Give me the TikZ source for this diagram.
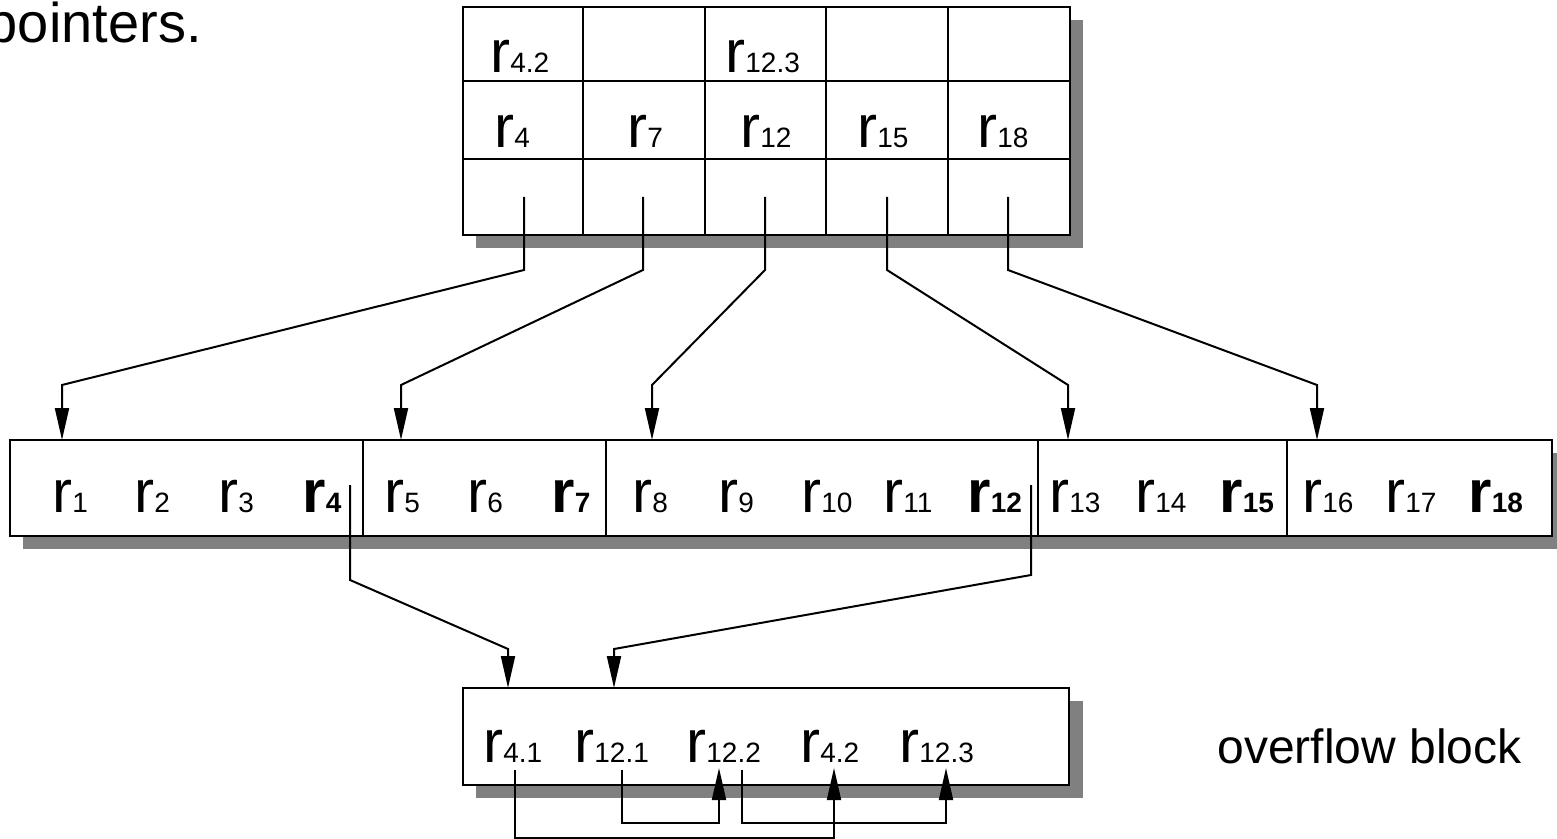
\documentclass[tikz,border=0pt]{standalone}
\usepackage{fontspec}
\setmainfont{Liberation Sans}
\usetikzlibrary{arrows.meta}

\definecolor{shadowgray}{gray}{0.5}
\newcommand{\rec}[1]{{\fontsize{30}{30}\selectfont r}{\fontsize{14}{14}\selectfont #1}}
\newcommand{\recb}[1]{{\bfseries\rec{#1}}}

\begin{document}
\begin{tikzpicture}[x=0.5pt,y=-0.5pt,
    box/.style={draw, line width=1.3pt, fill=white},
    rule/.style={line width=1.3pt},
    ptr/.style={line width=1pt, -{Triangle[length=16pt,width=7pt]}},
    rec/.style={anchor=base west, inner sep=0pt},
    label/.style={inner sep=0pt, font=\fontsize{24}{24}\selectfont}]
  \useasboundingbox (0,0) rectangle (1557,839);

  % Caption text
  \node[label, anchor=base east, font=\fontsize{28}{28}\selectfont] (caption) at (202,43) {pointers.};
  \node[label, anchor=base west] (ovlabel) at (1217,763) {overflow block};

  % Draw the index block
  \fill[shadowgray] (476,20) rectangle (1083,248);
  \draw[box] (463,7) rectangle (1070,235);
  \foreach \x in {583,705,826,948} \draw[rule] (\x,7) -- (\x,235);
  \foreach \y in {81,159} \draw[rule] (463,\y) -- (1070,\y);
  \node[rec] (i42) at (490,73) {\rec{4.2}};
  \node[rec] (i123) at (725,73) {\rec{12.3}};
  \foreach \x/\n in {494/4,627/7,740/12,857/15,977/18}
    \node[rec] (i\n) at (\x,148) {\rec{\n}};
  \foreach \x [count=\i] in {524,643,765,887,1008}
    \coordinate (p\i) at (\x,197);

  % Draw the data blocks
  \fill[shadowgray] (23,453) rectangle (1565,549);
  \draw[box] (10,440) rectangle (1552,536);
  \foreach \x in {363,606,1038,1287} \draw[rule] (\x,440) -- (\x,536);
  \foreach \x/\n in {52/1,134/2,218/3,384/5,467/6,632/8,718/9,801/10,883/11,1049/13,1135/14,1302/16,1385/17}
    \node[rec] (d\n) at (\x,512) {\rec{\n}};
  \foreach \x/\n in {302/4,551/7,967/12,1219/15,1468/18}
    \node[rec] (d\n) at (\x,512) {\recb{\n}};
  \foreach \x [count=\i] in {62,401,652,1068,1317}
    \coordinate (t\i) at (\x,440);

  % Index pointers
  \foreach \i in {1,...,5}
    \draw[ptr] (p\i) -- ++(0,73) -- ([yshift=27.5pt]t\i) -- (t\i);

  % Draw the overflow block
  \fill[shadowgray] (476,701) rectangle (1083,798);
  \draw[box] (463,688) rectangle (1069,785);
  \node[rec] (o41) at (483,762) {\rec{4.1}};
  \node[rec] (o121) at (574,762) {\rec{12.1}};
  \node[rec] (o122) at (686,762) {\rec{12.2}};
  \node[rec] (o42) at (800,762) {\rec{4.2}};
  \node[rec] (o123) at (899,762) {\rec{12.3}};

  % Overflow pointers
  \coordinate (s1) at (350,485);
  \coordinate (s2) at (1031,485);
  \coordinate (v1) at (508,688);
  \coordinate (v2) at (614,688);
  \draw[ptr] (s1) -- ++(0,95) -- ([yshift=19.5pt]v1) -- (v1);
  \draw[ptr] (s2) -- ++(0,90) -- ([yshift=19.5pt]v2) -- (v2);

  % Chain inside the overflow block
  \coordinate (q1) at (515,770);
  \coordinate (q2) at (622,770);
  \coordinate (q3) at (742,770);
  \coordinate (u1) at (834,768);
  \coordinate (u2) at (719,768);
  \coordinate (u3) at (946,768);
  \draw[ptr] (q1) -- ++(0,68) -| (u1);
  \draw[ptr] (q2) -- ++(0,53) -| (u2);
  \draw[ptr] (q3) -- ++(0,53) -| (u3);
\end{tikzpicture}
\end{document}
